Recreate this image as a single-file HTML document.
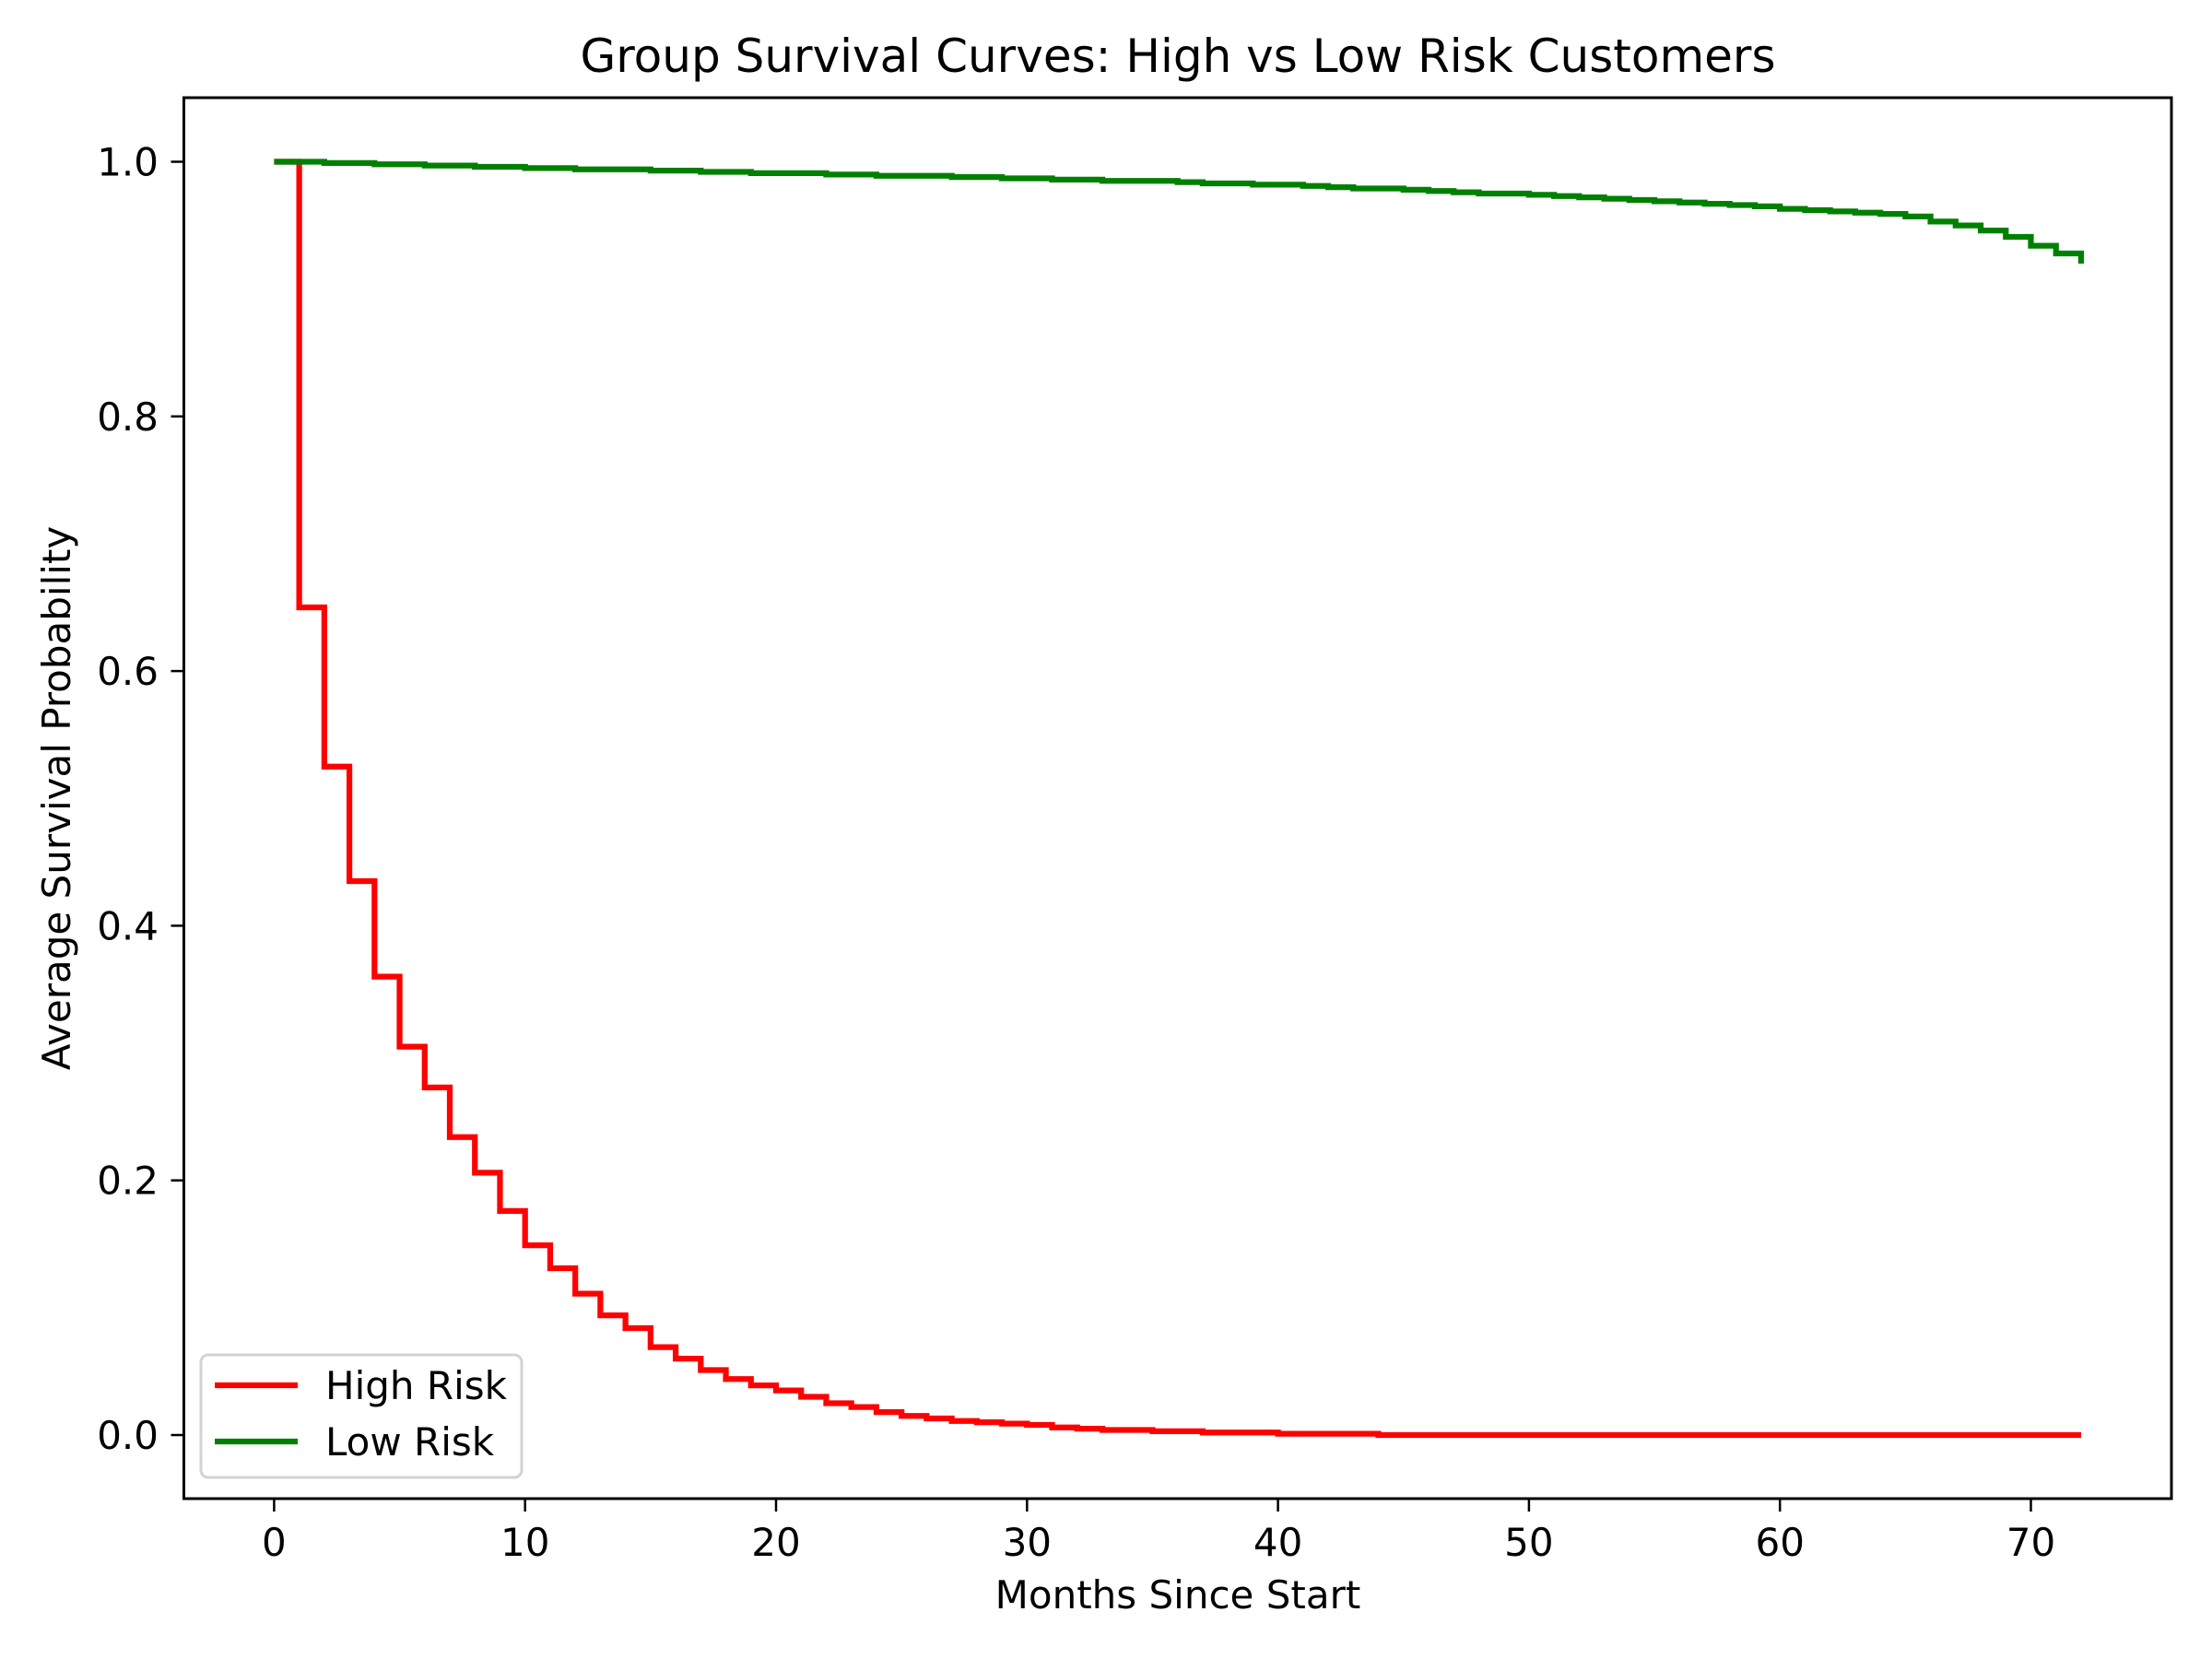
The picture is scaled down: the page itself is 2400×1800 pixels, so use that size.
<!DOCTYPE html>
<html><head><meta charset="utf-8"><style>
html,body{margin:0;padding:0;background:#fff;}
svg{display:block;font-family:"DejaVu Sans","Liberation Sans",sans-serif;}
</style></head><body>
<svg id="chart" width="2400" height="1800" viewBox="0 0 2400 1800" xmlns="http://www.w3.org/2000/svg">
<rect width="2400" height="1800" fill="#fff"/>
<text x="1278" y="78" font-size="50" text-anchor="middle">Group Survival Curves: High vs Low Risk Customers</text>
<g id="plot"></g>
<rect x="199.5" y="106" width="2156.5" height="1520" fill="none" stroke="#000" stroke-width="3"/>
<text x="1278" y="1745" font-size="42" text-anchor="middle">Months Since Start</text>
<text transform="translate(76,866) rotate(-90)" font-size="42" text-anchor="middle">Average Survival Probability</text>
<g transform="translate(-2,-8)">
<rect x="220" y="1478" width="348" height="133" rx="8" fill="#fff" fill-opacity="0.8" stroke="#d3d3d3" stroke-width="3"/>
<line x1="235" y1="1511" x2="325" y2="1511" stroke="#ff0000" stroke-width="6.25"/>
<text x="355" y="1526" font-size="42">High Risk</text>
<line x1="235" y1="1572" x2="325" y2="1572" stroke="#008000" stroke-width="6.25"/>
<text x="355" y="1587" font-size="42">Low Risk</text>
</g>
</svg>
<script>
const months = Array.from({length:73},(_,i)=>i);
const highRisk = [1.0,0.65,0.525,0.435,0.36,0.305,0.273,0.234,0.206,0.176,0.149,0.131,0.111,0.094,0.084,0.069,0.060,0.051,0.044,0.039,0.035,0.030,0.025,0.022,0.018,0.015,0.013,0.011,0.010,0.009,0.008,0.006,0.005,0.004,0.004,0.003,0.003,0.002,0.002,0.002,0.001,0.001,0.001,0.001,0,0,0,0,0,0,0,0,0,0,0,0,0,0,0,0,0,0,0,0,0,0,0,0,0,0,0,0,0];
const lowRisk = [1.0,1.0,0.999,0.999,0.998,0.998,0.997,0.997,0.996,0.996,0.995,0.995,0.994,0.994,0.994,0.993,0.993,0.992,0.992,0.991,0.991,0.991,0.990,0.990,0.989,0.989,0.989,0.988,0.988,0.987,0.987,0.986,0.986,0.985,0.985,0.985,0.984,0.983,0.983,0.982,0.982,0.981,0.980,0.979,0.979,0.978,0.977,0.976,0.975,0.975,0.974,0.973,0.972,0.971,0.970,0.969,0.968,0.967,0.966,0.965,0.963,0.962,0.961,0.960,0.959,0.957,0.953,0.950,0.946,0.941,0.934,0.928,0.920];
const xTicks = [0,10,20,30,40,50,60,70];
const yTicks = [0.0,0.2,0.4,0.6,0.8,1.0];
const xTickLabels = ["0","10","20","30","40","50","60","70"];
const yTickLabels = ["0.0","0.2","0.4","0.6","0.8","1.0"];

const NS="http://www.w3.org/2000/svg";
const X0=297.4, XS=27.23, Y1=175.5, Y0=1557;
const sx=v=>X0+v*XS;
const sy=v=>Y0-v*(Y0-Y1);
const plot=document.getElementById('plot');
const svg=document.getElementById('chart');

xTicks.forEach((t,i)=>{
  const l=document.createElementNS(NS,'line');
  l.setAttribute('x1',sx(t));l.setAttribute('x2',sx(t));
  l.setAttribute('y1',1626);l.setAttribute('y2',1640);
  l.setAttribute('stroke','#000');l.setAttribute('stroke-width','2.5');
  
  
  svg.appendChild(l);
  const tx=document.createElementNS(NS,'text');
  tx.setAttribute('x',sx(t));tx.setAttribute('y',1688);
  tx.setAttribute('font-size','42');tx.setAttribute('text-anchor','middle');
  tx.textContent=xTickLabels[i];
  
  
  svg.appendChild(tx);
});
yTicks.forEach((t,i)=>{
  const l=document.createElementNS(NS,'line');
  l.setAttribute('x1',185.5);l.setAttribute('x2',199.5);
  l.setAttribute('y1',sy(t));l.setAttribute('y2',sy(t));
  l.setAttribute('stroke','#000');l.setAttribute('stroke-width','2.5');
  
  
  svg.appendChild(l);
  const tx=document.createElementNS(NS,'text');
  tx.setAttribute('x',172);tx.setAttribute('y',sy(t)+15);
  tx.setAttribute('font-size','42');tx.setAttribute('text-anchor','end');
  tx.textContent=yTickLabels[i];
  
  
  svg.appendChild(tx);
});

function stepPath(xs,ys){
  let d='M'+sx(xs[0])+','+sy(ys[0]);
  for(let i=1;i<xs.length;i++){
    d+=' H'+sx(xs[i])+' V'+sy(ys[i]);
  }
  return d;
}
function addSeries(ys,color,name){
  const p=document.createElementNS(NS,'path');
  p.setAttribute('d',stepPath(months,ys));
  p.setAttribute('fill','none');
  p.setAttribute('stroke',color);
  p.setAttribute('stroke-width','6.25');
  p.setAttribute('stroke-linejoin','miter');
  
  
  plot.appendChild(p);
}
addSeries(highRisk,'#ff0000','high-risk-line');
addSeries(lowRisk,'#008000','low-risk-line');
</script>
</body></html>
